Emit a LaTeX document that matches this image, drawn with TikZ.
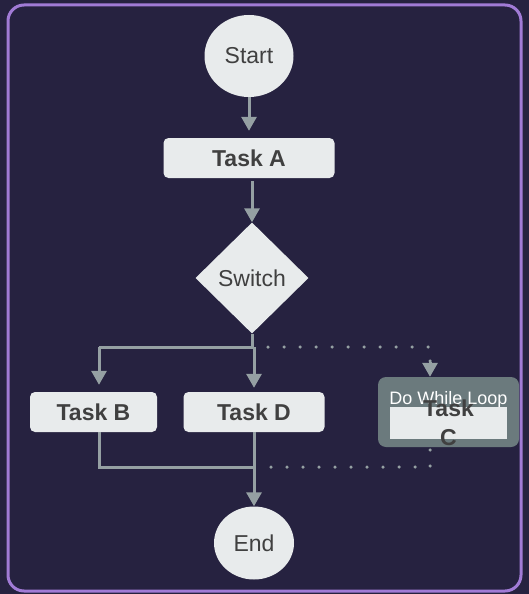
\documentclass[tikz,border=0pt]{standalone}
\usepackage{fontspec}
\setmainfont{Liberation Sans}
\usepackage{tikz}
\usetikzlibrary{shapes.geometric,arrows.meta}
\definecolor{bg}{HTML}{262240}
\definecolor{rahmen}{HTML}{A17BD6}
\definecolor{kfill}{HTML}{E8EBEC}
\definecolor{ktext}{HTML}{404040}
\definecolor{linie}{HTML}{95A0A3}
\definecolor{loopfill}{HTML}{6B7A7D}
\begin{document}
\begin{tikzpicture}[x=1pt,y=-1pt,>={Triangle[width=15pt,length=14pt]}]
	\tikzstyle{every node}=[font=\fontsize{23}{29}\selectfont, text=ktext, inner sep=0]
	\tikzstyle{rund}=[ellipse, fill=kfill]
	\tikzstyle{task}=[rectangle, rounded corners=5pt, fill=kfill, minimum height=40, font=\fontsize{23}{29}\selectfont\bfseries]
	\tikzstyle{linie}=[draw=linie, line width=3pt]
	\tikzstyle{punkte}=[draw=linie, line width=3.5pt, line cap=round, dash pattern=on 0pt off 16pt]
	
	%Hintergrund und Rahmen
	\fill[bg] (0,0) rectangle (529,594);
	\useasboundingbox (0,0) rectangle (529,594);
	\draw[rahmen, line width=3pt, rounded corners=16pt] (8,5) rectangle (521,591);
	
	%Knoten
	\node[rund, minimum width=89, minimum height=82] (start) at (249,56) {Start};
	\node[task, minimum width=171] (taskA) at (249,158) {Task A};
	\node[diamond, fill=kfill, minimum width=113, minimum height=111] (switch) at (252,278) {Switch};
	\node[task, minimum width=127] (taskB) at (93.5,412) {Task B};
	\node[task, minimum width=141] (taskD) at (254,412) {Task D};
	\node[rectangle, rounded corners=8pt, fill=loopfill, minimum width=141, minimum height=70] (loop) at (448.5,412) {};
	\node[text=white, font=\fontsize{18}{22}\selectfont] (looplabel) at (448.5,400) {Do While Loop};
	\node[rectangle, fill=kfill, minimum width=117, minimum height=32] (taskC) at (448.5,423) {};
	\node[align=center, font=\fontsize{23}{29}\selectfont\bfseries] (taskCtext) at (448.5,423) {Task\\C};
	\node[rund, minimum width=80, minimum height=73] (end) at (254,543) {End};
	
	%Hilfspunkte
	\coordinate (split) at (254,347);
	\coordinate (jB) at (99,347);
	\coordinate (jL) at (430,347);
	\coordinate (merge) at (254,467);
	\coordinate (mB) at (99,467);
	\coordinate (mL) at (430,467);
	
	%Verbindungen
	\draw[linie, ->, shorten >=7pt] (start) -- (start |- taskA.north);
	\draw[linie, ->, shorten <=3pt] (taskA.south -| switch) -- (switch.north);
	\draw[linie] (switch.south) -- (switch.south |- split) -- (jB);
	\draw[linie] (switch.south |- split) -- (split);
	\draw[linie, ->, shorten >=7pt] (jB) -- (jB |- taskB.north);
	\draw[linie, ->, shorten >=4pt] (split) -- (taskD);
	\draw[linie] (taskB.south -| jB) -- (mB) -- (merge);
	\draw[linie, ->] (taskD) -- (end);
	
	%Schleife (gepunktet)
	\draw[punkte] (268,347) -- (jL) -- (430,362);
	\draw[linie, ->] (430,362) -- (jL |- loop.north);
	\draw[punkte] (430,450) -- (mL) -- (262,467);
\end{tikzpicture}
\end{document}
